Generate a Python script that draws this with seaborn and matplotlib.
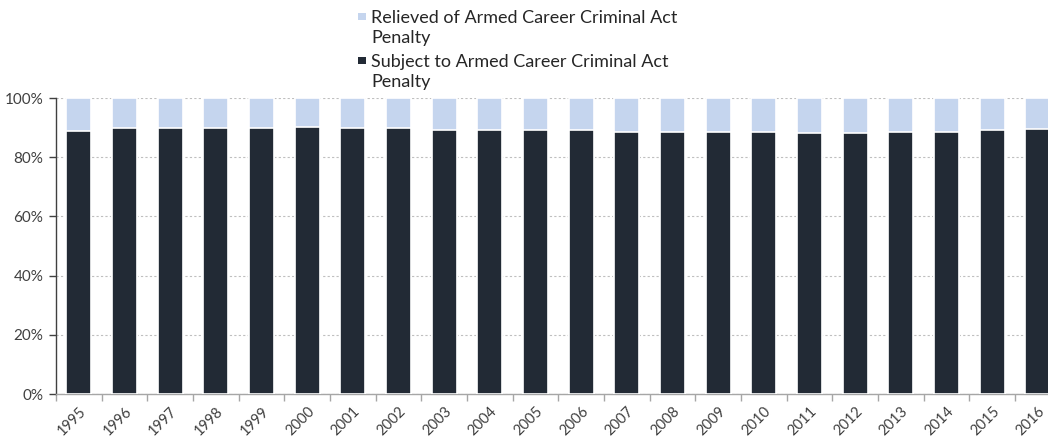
import matplotlib
matplotlib.use("Agg")
import matplotlib.pyplot as plt
import seaborn as sns
import pandas as pd
from matplotlib.ticker import FuncFormatter
from matplotlib.patches import Rectangle

years = [str(y) for y in range(1995, 2017)]
subject_pct = [88.9, 90.0, 90.0, 89.9, 90.0, 90.2, 90.0, 89.9, 89.1, 89.3, 89.1,
               89.1, 88.6, 88.6, 88.6, 88.4, 88.2, 88.2, 88.4, 88.6, 89.1, 89.6]
relieved_pct = [round(100 - s, 1) for s in subject_pct]

label_relieved = "Relieved of Armed Career Criminal Act\nPenalty"
label_subject = "Subject to Armed Career Criminal Act\nPenalty"
color_relieved = "#c5d5ee"
color_subject = "#222a35"

df = pd.DataFrame({"year": years, "subject": subject_pct, "relieved": relieved_pct})
df["total"] = df["subject"] + df["relieved"]

sns.set_style("white")
plt.rcParams["font.family"] = ["Lato", "DejaVu Sans"]

W, H = 1048, 437
fig = plt.figure(figsize=(W / 100, H / 100), dpi=100)
ax = fig.add_axes([56 / W, 43 / H, 1 - 56 / W, 296 / H])

# stacked: full height (relieved on top), then subject share over it
sns.barplot(data=df, x="year", y="total", color=color_relieved, width=0.55,
            edgecolor="white", linewidth=1.2, saturation=1, ax=ax, zorder=3)
sns.barplot(data=df, x="year", y="subject", color=color_subject, width=0.55,
            edgecolor="white", linewidth=1.2, saturation=1, ax=ax, zorder=4)

ax.set_yticks([0, 20, 40, 60, 80, 100])
ax.yaxis.set_major_formatter(FuncFormatter(lambda v, p: f"{int(v)}%"))
ax.set_xlabel("")
ax.set_ylabel("")

ax.yaxis.grid(True, linestyle=(0, (2, 2)), color="#bfbfbf", linewidth=0.8, zorder=0)
ax.set_axisbelow(True)

for side in ["top", "right"]:
    ax.spines[side].set_visible(False)
ax.spines["left"].set_color("#404040")
ax.spines["left"].set_linewidth(1.0)
ax.spines["bottom"].set_color("#a6a6a6")
ax.spines["bottom"].set_linewidth(1.0)

ax.tick_params(axis="y", which="both", left=True, length=5, width=1, color="#404040",
               labelsize=11, labelcolor="#404040", pad=4)
ax.set_xticks(range(len(years)))
ax.set_xticklabels(years, rotation=45, ha="right", rotation_mode="anchor",
                   fontsize=10.5, color="#404040")
ax.tick_params(axis="x", which="major", bottom=False, pad=4)
# tick marks between categories
ax.set_xticks([i - 0.5 for i in range(len(years) + 1)], minor=True)
ax.tick_params(axis="x", which="minor", bottom=True, length=5, width=1, color="#a6a6a6")

# the last category runs past the right edge of the figure
ax.set_ylim(0, 100)
ax.set_xlim(-0.5, 21.22)


# legend: square marker aligned with the first line of each wrapped label
def px(x, y):
    return x / W, 1 - y / H


legend_items = [(color_relieved, label_relieved, 23), (color_subject, label_subject, 67)]
for color, label, base in legend_items:
    x0, y0 = px(358, base - 3)
    fig.patches.append(Rectangle((x0, y0), 8 / W, 7 / H, transform=fig.transFigure,
                                 facecolor=color, edgecolor="none"))
    for k, line in enumerate(label.split("\n")):
        tx, ty = px(371, base + k * 20.5)
        fig.text(tx, ty, line, ha="left", va="baseline", fontsize=13, color="#262626")

fig.savefig("out.png", dpi=100)
